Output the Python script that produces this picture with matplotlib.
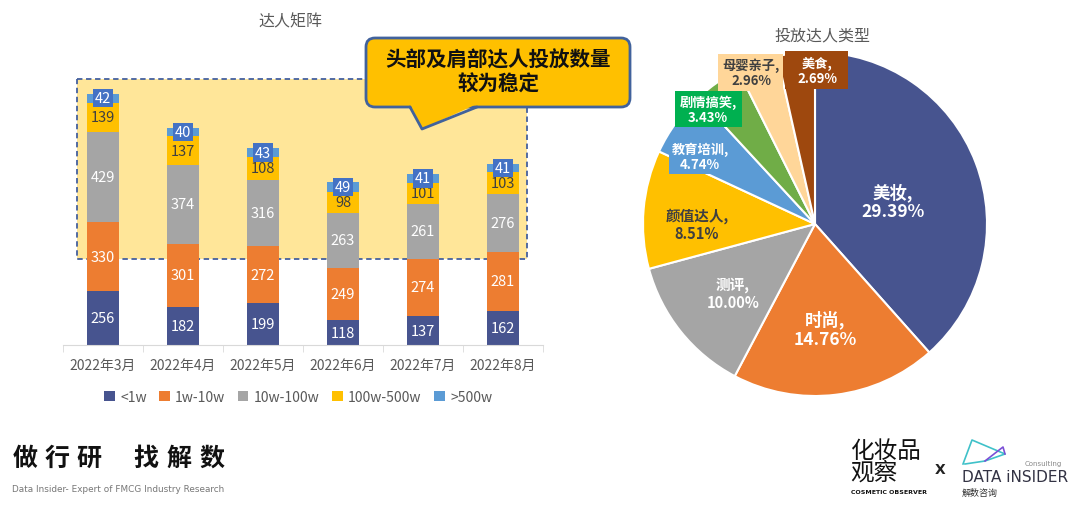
import matplotlib
matplotlib.use("Agg")
import matplotlib.pyplot as plt
from matplotlib.patches import Rectangle, FancyBboxPatch, Polygon
import numpy as np

plt.rcParams['font.family'] = ['Noto Sans CJK SC', 'DejaVu Sans']

# ---------------- data ----------------
months = ["2022年3月", "2022年4月", "2022年5月", "2022年6月", "2022年7月", "2022年8月"]
series_names = ["<1w", "1w-10w", "10w-100w", "100w-500w", ">500w"]
s_lt1w = [256, 182, 199, 118, 137, 162]
s_1w_10w = [330, 301, 272, 249, 274, 281]
s_10w_100w = [429, 374, 316, 263, 261, 276]
s_100w_500w = [139, 137, 108, 98, 101, 103]
s_gt500w = [42, 40, 43, 49, 41, 41]

pie_names = ["美妆", "时尚", "测评", "颜值达人", "教育培训", "剧情搞笑", "母婴亲子", "美食"]
pie_values = [29.39, 14.76, 10.00, 8.51, 4.74, 3.43, 2.96, 2.69]

bar_title = "达人矩阵"
pie_title = "投放达人类型"
callout_text = "头部及肩部达人投放数量\n较为稳定"
slogan = "做行研找解数"

# ---------------- styles ----------------
bar_colors = ["#47548F", "#ED7D31", "#A5A5A5", "#FFC000", "#5B9BD5"]
label_colors = ["white", "white", "white", "#404040", "white"]
pie_colors = ["#47548F", "#ED7D31", "#A5A5A5", "#FFC000", "#5B9BD5", "#70AD47", "#FFD699", "#9E480E"]

W, H = 1080, 506
fig = plt.figure(figsize=(W / 100, H / 100), dpi=100)
fig.patch.set_facecolor("white")

def fb(l, t, r, b):
    return [l / W, 1 - b / H, (r - l) / W, (b - t) / H]

# background overlay (behind bars)
bg = fig.add_axes([0, 0, 1, 1], zorder=-1)
bg.set_xlim(0, W); bg.set_ylim(H, 0); bg.axis("off")
bg.add_patch(Rectangle((77, 80), 450, 180, facecolor="#FFE699", edgecolor="#44609E",
                       linestyle=(0, (3, 2)), linewidth=1.3))

# ---------------- bar chart ----------------
ax = fig.add_axes(fb(63, 40, 543, 346), zorder=1)
ax.patch.set_visible(False)
x = np.arange(len(months))
series = [s_lt1w, s_1w_10w, s_10w_100w, s_100w_500w, s_gt500w]
bottom = np.zeros(len(months))
for i, (vals, name) in enumerate(zip(series, series_names)):
    vals = np.array(vals, dtype=float)
    ax.bar(x, vals, 0.4, bottom=bottom, color=bar_colors[i], label=name, zorder=2)
    for xi, v, b in zip(x, vals, bottom):
        if i == 4:
            ax.text(xi, b + v / 2, f"{int(v)}", ha="center", va="center", fontsize=10.5,
                    color="white", zorder=5,
                    bbox=dict(boxstyle="square,pad=0.15", fc="#4472C4", ec="none"))
        else:
            ax.text(xi, b + v / 2, f"{int(v)}", ha="center", va="center", fontsize=10.5,
                    color=label_colors[i], zorder=4)
    bottom += vals

ax.set_xlim(-0.5, len(months) - 0.5)
ax.set_ylim(0, 306 / 0.21)
ax.set_yticks([])
for s in ["top", "right", "left"]:
    ax.spines[s].set_visible(False)
ax.spines["bottom"].set_color("#D9D9D9")
ax.set_xticks(x)
ax.set_xticklabels(months, fontsize=10, color="#595959")
ax.tick_params(axis="x", which="major", length=0, pad=9)
ax.set_xticks(np.arange(-0.5, len(months)), minor=True)
ax.tick_params(axis="x", which="minor", length=5, color="#D9D9D9")

leg = ax.legend(loc="upper center", bbox_to_anchor=(0.49, -0.105), ncol=5, frameon=False,
                fontsize=10, handlelength=0.75, handleheight=0.75, handletextpad=0.4,
                columnspacing=0.9)
for t in leg.get_texts():
    t.set_color("#595959")

# ---------------- pie chart ----------------
cx, cy, r = 815, 225, 172
pax = fig.add_axes(fb(cx - r, cy - r, cx + r, cy + r), zorder=1)
pax.pie(pie_values, colors=pie_colors, startangle=90, counterclock=False,
        wedgeprops=dict(edgecolor="white", linewidth=1.5))
pax.set_xlim(-1, 1); pax.set_ylim(-1, 1); pax.set_aspect("equal")

# ---------------- overlay ----------------
ov = fig.add_axes([0, 0, 1, 1], zorder=5)
ov.set_xlim(0, W); ov.set_ylim(H, 0); ov.axis("off")

ov.text(290, 22, bar_title, ha="center", va="center", fontsize=11.5, color="#595959")
ov.text(822, 36, pie_title, ha="center", va="center", fontsize=11.5, color="#595959")

# callout
ov.add_patch(FancyBboxPatch((366, 39), 264, 69, boxstyle="round,pad=0,rounding_size=9",
                            facecolor="#FFC000", edgecolor="#41629C", linewidth=2))
ov.add_patch(Polygon([(410, 105), (422, 130), (477, 105)], closed=True,
                     facecolor="#FFC000", edgecolor="none"))
ov.plot([410, 422, 477], [108, 130, 108], color="#41629C", linewidth=2, solid_capstyle="round")
ov.text(498, 72, callout_text, ha="center", va="center", fontsize=14.8, fontweight="bold",
        color="#111111", linespacing=1.15)

# pie labels
pie_label_pos = [(893, 202), (825, 330), (733, 294), (697, 225), (700, 157), (708, 110), (751, 73), (817, 71)]
pie_label_size = [12.5, 12.5, 10.5, 10.5, 9.5, 9.5, 9.5, 9.5]
pie_label_color = ["white", "white", "white", "#404040", "white", "white", "#404040", "white"]
pie_label_box = [None, None, None, None,
                 (669, 139, 731, 175), (675, 92, 742, 128), (718, 55, 783, 92), (785, 52, 848, 90)]
for name, val, pos, fs, col, box, fc in zip(pie_names, pie_values, pie_label_pos, pie_label_size,
                                            pie_label_color, pie_label_box, pie_colors):
    if box is not None:
        l, t, rr, b = box
        boxc = "#00B050" if name == "剧情搞笑" else fc
        ov.add_patch(Rectangle((l, t), rr - l, b - t, facecolor=boxc, edgecolor="none"))
    ov.text(pos[0], pos[1], f"{name},\n{val:.2f}%", ha="center", va="center", fontsize=fs,
            fontweight="bold", color=col, linespacing=1.1)

# footer left
slogan_x = [25, 57, 89, 146, 179, 212]
for ch, sx in zip(slogan, slogan_x):
    ov.text(sx, 459, ch, ha="center", va="center", fontsize=18, fontweight="bold",
            color="#111111")
ov.text(12, 490, "Data Insider- Expert of FMCG Industry Research", ha="left", va="center",
        fontsize=6.4, color="#777777", family="DejaVu Sans")

# footer right logos
ov.text(850, 451, "化妆品", ha="left", va="center", fontsize=17, color="#111111")
ov.text(850, 473, "观察", ha="left", va="center", fontsize=17, color="#111111")
ov.text(851, 493, "COSMETIC OBSERVER", ha="left", va="center", fontsize=4.5, fontweight="bold",
        color="#111111", family="DejaVu Sans")
ov.text(940, 470, "X", ha="center", va="center", fontsize=10, fontweight="bold", color="#222222",
        family="DejaVu Sans")
ov.plot([963, 972, 1005, 985, 965], [465, 441, 455, 462, 465], color="#3FC1C9", linewidth=1.2)
ov.plot([985, 1003, 1005], [462, 448, 455], color="#7B4FD6", linewidth=1.2)
ov.text(1062, 464, "Consulting", ha="right", va="center", fontsize=5, color="#888888",
        family="DejaVu Sans")
ov.text(962, 478, "DATA iNSIDER", ha="left", va="center", fontsize=11, color="#333344",
        family="DejaVu Sans")
ov.text(962, 493, "解数咨询", ha="left", va="center", fontsize=6.5, color="#333333")

fig.savefig("out.png", dpi=100)
